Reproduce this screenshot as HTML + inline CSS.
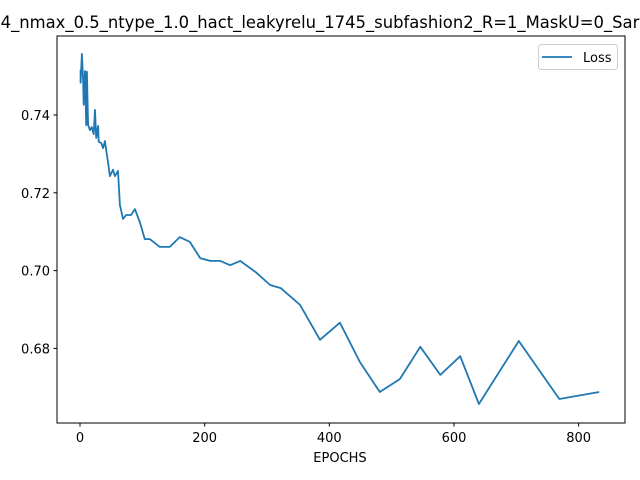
<!DOCTYPE html>
<html><head><meta charset="utf-8"><style>
body{margin:0;background:#fff;overflow:hidden;}
svg{display:block;font-family:"DejaVu Sans","Liberation Sans",sans-serif;}
</style></head><body>
<svg id="c" width="640" height="480" xmlns="http://www.w3.org/2000/svg">
<text x="320" y="28" font-size="16.4" text-anchor="middle">4_nmax_0.5_ntype_1.0_hact_leakyrelu_1745_subfashion2_R=1_MaskU=0_Sar</text>
<rect x="57" y="36" width="568" height="387" fill="none" stroke="#000" stroke-width="1"/>
<g id="ticks"></g>
<polyline id="line" fill="none" stroke="#1f77b4" stroke-width="1.8" stroke-linejoin="round"/>
<text x="340" y="462" font-size="13" text-anchor="middle">EPOCHS</text>
<g>
<rect x="538.5" y="44.5" width="79" height="25" rx="3" fill="#fff" stroke="#ccc"/>
<line x1="542" y1="57" x2="572" y2="57" stroke="#1f77b4" stroke-width="1.8"/>
<text x="583" y="62" font-size="13">Loss</text>
</g>
</svg>
<script>
const epochs=[1,1,3,5,6,8,10,11,13,16,19,22,24,26,29,30,34,37,40,45,48,53,56,61,64,69,74,82,88,96,104,112,128,144,160,176,193,209,225,241,257,282,305,322,353,385,417,449,481,513,546,578,610,640,704,769,833];
const losses=[0.7516,0.7483,0.7557,0.7490,0.7426,0.7513,0.7374,0.7511,0.7374,0.7361,0.7369,0.7351,0.7413,0.7341,0.7372,0.7331,0.7328,0.7315,0.7333,0.7279,0.7243,0.7259,0.7243,0.7256,0.7169,0.7133,0.7143,0.7143,0.7158,0.7125,0.7081,0.7081,0.7061,0.7061,0.7086,0.7074,0.7032,0.7025,0.7025,0.7014,0.7025,0.6996,0.6963,0.6955,0.6912,0.6822,0.6866,0.6765,0.6688,0.6721,0.6804,0.6732,0.6780,0.6657,0.6819,0.6670,0.6688];
const xTicks=[0,200,400,600,800];
const yTicks=[0.68,0.70,0.72,0.74];
const X=v=>80+(v)*0.6233;
const Y=v=>115+(0.74-v)*3890;
const NS="http://www.w3.org/2000/svg";
const line=document.getElementById('line');
line.setAttribute('points',epochs.map((e,i)=>X(e).toFixed(1)+','+Y(losses[i]).toFixed(1)).join(' '));
const g=document.getElementById('ticks');
xTicks.forEach(t=>{
 const l=document.createElementNS(NS,'line');
 
 
 l.setAttribute('x1',X(t));l.setAttribute('x2',X(t));l.setAttribute('y1',423);l.setAttribute('y2',426.5);l.setAttribute('stroke','#000');
 g.appendChild(l);
 const tx=document.createElementNS(NS,'text');
 
 
 tx.setAttribute('x',X(t));tx.setAttribute('y',442);tx.setAttribute('font-size','13');tx.setAttribute('text-anchor','middle');
 tx.textContent=t;g.appendChild(tx);
});
yTicks.forEach(t=>{
 const l=document.createElementNS(NS,'line');
 
 
 l.setAttribute('x1',53.5);l.setAttribute('x2',57);l.setAttribute('y1',Y(t));l.setAttribute('y2',Y(t));l.setAttribute('stroke','#000');
 g.appendChild(l);
 const tx=document.createElementNS(NS,'text');
 
 
 tx.setAttribute('x',50);tx.setAttribute('y',Y(t)+5);tx.setAttribute('font-size','13');tx.setAttribute('text-anchor','end');
 tx.textContent=t.toFixed(2);g.appendChild(tx);
});
</script>
</body></html>
